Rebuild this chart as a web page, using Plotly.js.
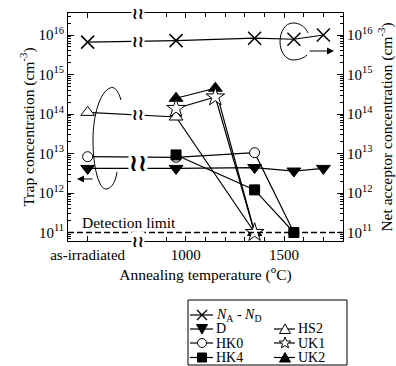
<!DOCTYPE html>
<html><head><meta charset="utf-8">
<script src="https://cdn.plot.ly/plotly-3.0.1.min.js"></script>
<style>html,body{margin:0;padding:0;background:#fff}</style>
</head><body><div id="chart" style="width:396px;height:366px"></div>
<script>
// ---- data ----
const AS_IRR = 500; // axis position used for the "as-irradiated" state
const seriesNames = ['<i>N</i><sub>A</sub> - <i>N</i><sub>D</sub>', 'D', 'HK0', 'HK4', 'HS2', 'UK1', 'UK2'];
const tempNAND = [AS_IRR, 950, 1350, 1550, 1700];
const valNAND  = [6.6e15, 7.2e15, 8.3e15, 7.8e15, 1.0e16];
const tempD    = [AS_IRR, 950, 1350, 1550, 1700];
const valD     = [4.2e12, 4.2e12, 4.4e12, 3.6e12, 4.2e12];
const tempHK0  = [AS_IRR, 950, 1350, 1550];
const valHK0   = [8.3e12, 8.0e12, 1.05e13, 1e11];
const tempHK4  = [950, 1350, 1550];
const valHK4   = [9.2e12, 1.2e12, 1e11];
const tempHS2  = [AS_IRR, 950, 1350];
const valHS2   = [1.1e14, 8.4e13, 1e11];
const tempUK1  = [950, 1150, 1350];
const valUK1   = [1.38e14, 2.7e14, 1e11];
const tempUK2  = [950, 1150, 1350];
const valUK2   = [2.5e14, 4.5e14, 1e11];
const detectionLimit = 1e11;
const xTickVals = [AS_IRR, 1000, 1500];
const xTickText = ['as-irradiated', '1000', '1500'];
const xMinorVals = [900, 1100, 1200, 1300, 1400, 1600, 1700];
const yTickVals = [1e11, 1e12, 1e13, 1e14, 1e15, 1e16];
const yTickText = ['10<sup>11</sup>', '10<sup>12</sup>', '10<sup>13</sup>', '10<sup>14</sup>', '10<sup>15</sup>', '10<sup>16</sup>'];
const X_BREAK = 755;

// ---- geometry helpers (pixel -> paper) ----
const W = 396, H = 366, ML = 68, MR = 53, MT = 13, MB = 125;
const PW = W - ML - MR, PH = H - MT - MB;
const px2x = p => (p - ML) / PW;
const px2y = p => (H - MB - p) / PH;

const FONT = 'Liberation Serif';
const yRange = [10.785, 16.557];
const yMinor = [];
for (let e = 10; e <= 16; e++) for (let d = 2; d <= 9; d++) {
  const v = d * Math.pow(10, e), lv = Math.log10(v);
  if (lv > yRange[0] && lv < yRange[1]) yMinor.push(v);
}

function tr(x, y, sym, size, fill, yaxis) {
  return {
    x: x, y: y, type: 'scatter', mode: 'lines+markers', yaxis: yaxis || 'y',
    line: {color: 'black', width: 1.2},
    marker: {symbol: sym, size: size, color: fill, line: {color: 'black', width: sym === 'x-thin' ? 1.5 : 1}},
    showlegend: false, hoverinfo: 'skip'
  };
}
const traces = [
  tr(tempNAND, valNAND, 'x-thin', 13, 'black', 'y2'),
  tr(tempD, valD, 'triangle-down', 12, 'black'),
  tr(tempHS2, valHS2, 'triangle-up', 12, 'white'),
  tr(tempHK0, valHK0, 'circle', 10, 'white'),
  tr(tempUK2, valUK2, 'triangle-up', 12, 'black'),
  tr(tempHK4, valHK4, 'square', 10, 'black'),
  tr(tempUK1, valUK1, 'star', 14, 'white')
];

// ---- axis breaks ----
function logAt(xs, ys, xb) {
  const t = (xb - xs[0]) / (xs[1] - xs[0]);
  return Math.log10(ys[0]) + t * (Math.log10(ys[1]) - Math.log10(ys[0]));
}
const brk = (x, y, xref, yref, size) => ({
  x: x, y: y, xref: xref, yref: yref, text: '<b>\u2240\u2240</b>', showarrow: false,
  font: {family: 'DejaVu Sans', size: size || 16, color: 'black'}, bgcolor: 'white', borderpad: 0,
  xanchor: 'center', yanchor: 'middle'
});
const midHKD = (logAt(tempHK0, valHK0, X_BREAK) + logAt(tempD, valD, X_BREAK)) / 2;
const annotations = [
  brk(X_BREAK, 1, 'x', 'paper'),
  brk(X_BREAK, 0, 'x', 'paper'),
  brk(X_BREAK, logAt(tempNAND, valNAND, X_BREAK), 'x', 'y2'),
  brk(X_BREAK, logAt(tempHS2, valHS2, X_BREAK), 'x', 'y'),
  brk(X_BREAK, midHKD, 'x', 'y', 24),
  {x: px2x(80), y: px2y(222), xref: 'paper', yref: 'paper', text: 'Detection limit', showarrow: false,
   xanchor: 'left', yanchor: 'middle', font: {family: FONT, size: 15.5, color: 'black'}},
  {x: px2x(77), y: px2y(179), xref: 'paper', yref: 'paper', text: '', showarrow: true,
   ax: 17, ay: 0, arrowhead: 2, arrowsize: 1.4, arrowwidth: 1, arrowcolor: 'black', standoff: 0},
  {x: px2x(334), y: px2y(51), xref: 'paper', yref: 'paper', text: '', showarrow: true,
   ax: -26, ay: 0, arrowhead: 2, arrowsize: 1.4, arrowwidth: 1, arrowcolor: 'black', standoff: 0}
];

// ---- decorative shapes ----
function pathPx(cmds) {
  return cmds.map(c => c[0] + c.slice(1).reduce((a, v, i) =>
    a.concat(i % 2 === 0 ? px2x(v).toFixed(5) : px2y(v).toFixed(5)), []).join(',')).join(' ');
}
const shapes = [
  {type: 'line', xref: 'paper', yref: 'y', x0: 0, x1: 1, y0: detectionLimit, y1: detectionLimit,
   line: {color: 'black', width: 1.5, dash: '6px,3px'}},
  {type: 'path', xref: 'paper', yref: 'paper', line: {color: 'black', width: 1},
   path: pathPx([['M', 121, 100], ['C', 118, 90, 114, 86, 110, 88], ['C', 100, 92, 93, 115, 93, 140],
                 ['C', 93, 168, 99, 189, 106, 189], ['C', 112, 189, 116, 180, 117, 172]])},
  {type: 'path', xref: 'paper', yref: 'paper', line: {color: 'black', width: 1},
   path: pathPx([['M', 308, 33], ['C', 305, 26, 299, 23, 293, 23], ['C', 285, 23, 280, 32, 280, 42],
                 ['C', 280, 52, 286, 60, 293, 60], ['C', 299, 60, 304, 58, 307, 55]])},
  {type: 'rect', xref: 'paper', yref: 'paper', x0: px2x(188), x1: px2x(347), y0: px2y(300), y1: px2y(365),
   line: {color: 'black', width: 1}, fillcolor: 'rgba(0,0,0,0)'}
];

// ---- custom legend ----
function starPath(ro, ri) {
  let p = '';
  for (let i = 0; i < 10; i++) {
    const r = i % 2 ? ri : ro, a = Math.PI / 2 + i * Math.PI / 5;
    p += (i ? 'L' : 'M') + (r * Math.cos(a)).toFixed(2) + ',' + (r * Math.sin(a)).toFixed(2);
  }
  return p + 'Z';
}
const symPaths = {
  x: {path: 'M-5,-5L5,5M-5,5L5,-5', fill: 'black', w: 1.3},
  tridown: {path: 'M-5.5,4.5L5.5,4.5L0,-5Z', fill: 'black', w: 1},
  triup: {path: 'M-5.5,-4.5L5.5,-4.5L0,5Z', fill: 'black', w: 1},
  triupopen: {path: 'M-5.5,-4.5L5.5,-4.5L0,5Z', fill: 'white', w: 1},
  circle: {circle: true, r: 4.5, fill: 'white', w: 1},
  square: {path: 'M-4.5,-4.5L4.5,-4.5L4.5,4.5L-4.5,4.5Z', fill: 'black', w: 1},
  star: {path: starPath(6, 2.6), fill: 'white', w: 1}
};
const legendItems = [
  {name: seriesNames[0], sym: 'x', col: 0, row: 0},
  {name: seriesNames[1], sym: 'tridown', col: 0, row: 1},
  {name: seriesNames[2], sym: 'circle', col: 0, row: 2},
  {name: seriesNames[3], sym: 'square', col: 0, row: 3},
  {name: seriesNames[4], sym: 'triupopen', col: 1, row: 1},
  {name: seriesNames[5], sym: 'star', col: 1, row: 2},
  {name: seriesNames[6], sym: 'triup', col: 1, row: 3}
];
const colX = [{l0: 190, l1: 213, m: 202, t: 214}, {l0: 274, l1: 295, m: 285, t: 296}];
const rowY = [315, 329, 343, 357.5];
legendItems.forEach(it => {
  const c = colX[it.col], y = rowY[it.row], s = symPaths[it.sym];
  shapes.push({type: 'line', xref: 'paper', yref: 'paper', x0: px2x(c.l0), x1: px2x(c.l1),
    y0: px2y(y), y1: px2y(y), line: {color: 'black', width: 1.2}});
  const base = {xref: 'paper', yref: 'paper', xsizemode: 'pixel', ysizemode: 'pixel',
    xanchor: px2x(c.m), yanchor: px2y(y), fillcolor: s.fill, line: {color: 'black', width: s.w}};
  if (s.circle) shapes.push(Object.assign(base, {type: 'circle', x0: -s.r, x1: s.r, y0: -s.r, y1: s.r}));
  else shapes.push(Object.assign(base, {type: 'path', path: s.path}));
  annotations.push({x: px2x(c.t), y: px2y(y), xref: 'paper', yref: 'paper', text: it.name,
    showarrow: false, xanchor: 'left', yanchor: 'middle', font: {family: FONT, size: 14, color: 'black'}});
});

const yCommon = {
  type: 'log', range: yRange, tickmode: 'array', tickvals: yTickVals, ticktext: yTickText,
  ticks: 'inside', ticklen: 6, tickwidth: 1, tickcolor: 'black', showline: true, linecolor: 'black', linewidth: 1,
  showgrid: false, zeroline: false, automargin: false, tickfont: {family: FONT, size: 15, color: 'black'},
  minor: {tickmode: 'array', tickvals: yMinor, ticks: 'inside', ticklen: 3, tickcolor: 'black', showgrid: false}
};
const layout = {
  width: W, height: H, margin: {l: ML, r: MR, t: MT, b: MB, pad: 0},
  paper_bgcolor: 'white', plot_bgcolor: 'white', showlegend: false,
  font: {family: FONT, size: 15, color: 'black'},
  xaxis: {
    range: [400, 1800], tickmode: 'array', tickvals: xTickVals, ticktext: xTickText,
    ticks: 'inside', ticklen: 5, tickcolor: 'black', showline: true, linecolor: 'black', linewidth: 1,
    mirror: 'ticks', showgrid: false, zeroline: false, automargin: false,
    tickfont: {family: FONT, size: 15, color: 'black'},
    minor: {tickmode: 'array', tickvals: xMinorVals, ticks: 'inside', ticklen: 4, tickcolor: 'black', showgrid: false},
    title: {text: 'Annealing temperature (<sup>o</sup>C)', font: {family: FONT, size: 15.5, color: 'black'}, standoff: 3}
  },
  yaxis: Object.assign({}, yCommon, {
    title: {text: 'Trap concentration (cm<sup>-3</sup>)', font: {family: FONT, size: 15.5, color: 'black'}, standoff: 0}
  }),
  yaxis2: Object.assign({}, yCommon, {
    overlaying: 'y', side: 'right',
    title: {text: 'Net acceptor concentration (cm<sup>-3</sup>)', font: {family: FONT, size: 15.5, color: 'black'}, standoff: 10}
  }),
  shapes: shapes, annotations: annotations
};
Plotly.newPlot('chart', traces, layout, {displayModeBar: false, staticPlot: true});
</script></body></html>
